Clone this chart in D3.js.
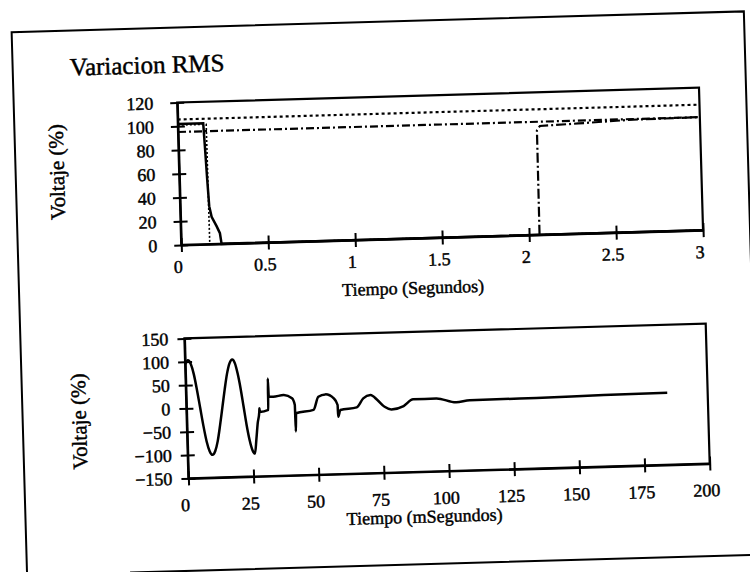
<!DOCTYPE html>
<html>
<head>
<meta charset="utf-8">
<script src="https://cdn.jsdelivr.net/npm/d3@7"></script>
<style>
body { margin: 0; background: #fff; }
svg text { font-family: "Liberation Serif", "Times New Roman", serif; fill: #000; stroke: #000; stroke-width: 0.45px; }
</style>
</head>
<body>
<svg id="chart" width="750" height="572"></svg>
<script>
// --- grafico de arriba: variacion RMS (tiempo en s, voltaje en %) ---
var tiempoA = [0, 0.146, 0.152, 0.16, 0.167, 0.179, 0.206, 0.224, 0.232, 3];
var voltajeA = [102, 102, 82, 54, 32, 23, 15, 9, 0, 0];
var tiempoB = [0, 0.163, 0.164, 3];
var voltajeB = [101, 101, 0, 0];
var tiempoRec = [2.06, 2.062, 2.08, 2.3, 2.59, 3];
var voltajeRec = [0, 88, 91.6, 92.8, 94.6, 95.2];
var tiempoLim = [0, 3];
var limSup = [105.7, 105.7];
var limInf = [95.2, 95.2];
var ticksY1 = [0, 20, 40, 60, 80, 100, 120];
var ticksX1 = [0, 0.5, 1, 1.5, 2, 2.5, 3];
var etiquetasX1 = ['0', '0.5', '1', '1.5', '2', '2.5', '3'];

// --- grafico de abajo: forma de onda (tiempo en ms, voltaje en %) ---
var tiempoOnda = [0, 1.1, 2.15, 3.2, 4.25, 5.3, 6.35, 7.4, 8.45, 9.5,
  10.6, 11.65, 12.7, 13.8, 14.9, 15.95, 17.0, 18.1,
  19.05, 20.0, 21.0, 21.95, 22.9, 23.9, 24.85, 25.8,
  26.5, 27.2, 27.9, 28.0, 28.1, 31.4, 31.5, 31.7, 33.4, 37.4, 40.6, 41.6, 41.7, 42.0,
  48.7, 50.7, 53.4, 56.6, 58.0, 58.1, 59.0, 65.3, 67.9, 70.7, 73.3, 76.0, 78.6,
  83.3, 87.0, 95.9, 103.5, 108.7, 134.3, 160.1, 184.5];
var voltajeOnda = [95, 103, 95, 73, 39, 0, -39, -72, -93, -101,
  -93, -72, -39, 0, 39, 72, 94, 102,
  94, 72, 39, 0, -39, -72, -93, -101,
  -70, -35, -12, -4, -12, -8, 59, 20, 19.7, 22.7, 15.2, 0.6, -56, -17,
  -11, 16.9, 21.6, 12.6, -1.9, -27, -12.9, -8.1, 10.7, 17.4, 6.4, -8.6, -14.6,
  -8.1, 5.6, 6.2, -3.4, 0.2, 1.1, 3.2, 4.3];
var ticksY2 = [-150, -100, -50, 0, 50, 100, 150];
var ticksX2 = [0, 25, 50, 75, 100, 125, 150, 175, 200];

var svg = d3.select('#chart');
// la hoja esta escaneada un poco torcida
var hoja = svg.append('g').attr('transform', 'rotate(-1.63,375,286)');

// marco de la hoja
hoja.append('path')
  .attr('d', 'M19,600 L19,22 L751.5,22 L751.5,320 M122,565.5 L770,565.5')
  .attr('fill', 'none').attr('stroke', '#000').attr('stroke-width', 2);

hoja.append('text').attr('x', 76).attr('y', 67)
  .attr('font-size', 25).text('Variacion RMS');

function panel(xs, ys, ticksX, ticksY, fmtX, padX, padY) {
  let g = hoja.append('g');
  g.append('rect')
    .attr('x', xs.range()[0]).attr('y', ys.range()[1])
    .attr('width', xs.range()[1] - xs.range()[0])
    .attr('height', ys.range()[0] - ys.range()[1])
    .attr('fill', 'none').attr('stroke', '#000').attr('stroke-width', 2.2);
  let ax = g.append('g').attr('transform', 'translate(0,' + ys.range()[0] + ')')
    .call(d3.axisBottom(xs).tickValues(ticksX).tickFormat(fmtX).tickSizeInner(7).tickSizeOuter(0).tickPadding(padX));
  let ay = g.append('g').attr('transform', 'translate(' + xs.range()[0] + ',0)')
    .call(d3.axisLeft(ys).tickValues(ticksY).tickFormat(d3.format('d')).tickSizeInner(7).tickSizeOuter(0).tickPadding(padY));
  [ax, ay].forEach(function(a) {
    a.attr('font-size', 18);
    a.select('.domain').attr('stroke-width', 2.2);
    a.selectAll('line').attr('stroke-width', 2);
  });
  // las marcas cruzan el eje
  ax.selectAll('.tick line').attr('y1', -7).attr('y2', 7);
  ay.selectAll('.tick line').attr('x1', -7).attr('x2', 7);
  ax.selectAll('.tick text').attr('x', -4);
  return g;
}

// --- arriba ---
var x1 = d3.scaleLinear().domain([0, 3]).range([182.5, 704.5]);
var y1 = d3.scaleLinear().domain([0, 120]).range([239.5, 97]);
var g1 = panel(x1, y1, ticksX1, ticksY1, function(d, i) { return etiquetasX1[i]; }, 8, 17);
var linea1 = d3.line().x(function(d) { return x1(d[0]); }).y(function(d) { return y1(d[1]); });
function serie(t, v) { return t.map(function(d, i) { return [d, v[i]]; }); }

g1.append('path').datum(serie(tiempoLim, limSup)).attr('d', linea1)
  .attr('fill', 'none').attr('stroke', '#000').attr('stroke-width', 2.2).attr('stroke-dasharray', '3,3');
g1.append('path').datum(serie(tiempoLim, limInf)).attr('d', linea1)
  .attr('fill', 'none').attr('stroke', '#000').attr('stroke-width', 2.2).attr('stroke-dasharray', '8,3,2,3');
g1.append('path').datum(serie(tiempoB, voltajeB)).attr('d', linea1)
  .attr('fill', 'none').attr('stroke', '#000').attr('stroke-width', 1.6).attr('stroke-dasharray', '2,2');
g1.append('path').datum(serie(tiempoA, voltajeA)).attr('d', linea1)
  .attr('fill', 'none').attr('stroke', '#000').attr('stroke-width', 2.5);
g1.append('path').datum(serie(tiempoRec, voltajeRec)).attr('d', linea1)
  .attr('fill', 'none').attr('stroke', '#000').attr('stroke-width', 2.2).attr('stroke-dasharray', '10,3,2,3');

g1.append('text').attr('x', 413).attr('y', 295).attr('text-anchor', 'middle')
  .attr('font-size', 18).text('Tiempo (Segundos)');
g1.append('text').attr('transform', 'translate(60,163) rotate(-90)').attr('dy', '0.35em')
  .attr('text-anchor', 'middle').attr('font-size', 21).text('Voltaje (%)');

// --- abajo ---
var x2 = d3.scaleLinear().domain([0, 200]).range([183, 704.5]);
var y2 = d3.scaleLinear().domain([-150, 150]).range([473, 333]);
var g2 = panel(x2, y2, ticksX2, ticksY2, d3.format('d'), 13, 9);
var linea2 = d3.line().x(function(d) { return x2(d[0]); }).y(function(d) { return y2(d[1]); })
  .curve(d3.curveMonotoneX);
g2.append('path').datum(serie(tiempoOnda, voltajeOnda)).attr('d', linea2)
  .attr('fill', 'none').attr('stroke', '#000').attr('stroke-width', 2.5);

g2.append('text').attr('x', 418).attr('y', 524).attr('text-anchor', 'middle')
  .attr('font-size', 18).text('Tiempo (mSegundos)');
g2.append('text').attr('transform', 'translate(75,413) rotate(-90)').attr('dy', '0.35em')
  .attr('text-anchor', 'middle').attr('font-size', 21).text('Voltaje (%)');
</script>
</body>
</html>
